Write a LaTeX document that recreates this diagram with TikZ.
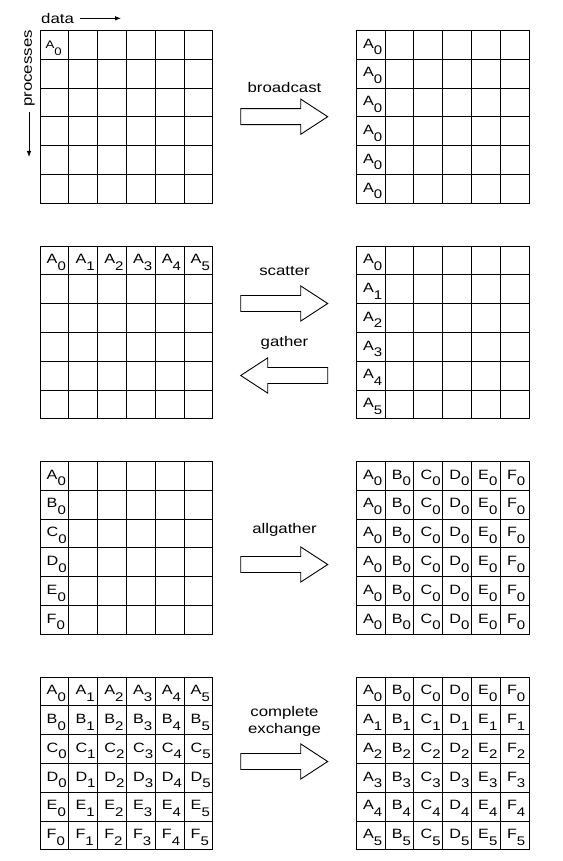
\documentclass[tikz,border=0pt]{standalone}
\usepackage{fontspec}
\setmainfont{Liberation Sans}[FakeStretch=1.2]
\usetikzlibrary{arrows.meta}

\newcommand{\cellentry}[2]{#1\raisebox{-6.7pt}{\fontsize{12.5}{13}\selectfont #2}}
\newcommand{\procgrid}[2]{%
  \draw[gridline] (#1,#2) rectangle ++(172.8,172.8);
  \foreach \k in {1,...,5} {
    \draw[gridline] (#1+\k*28.8,#2) -- ++(0,172.8);
    \draw[gridline] (#1,#2+\k*28.8) -- ++(172.8,0);
  }%
}

\tikzset{
  gridline/.style={line width=0.9pt},
  celltext/.style={anchor=base west, inner sep=0pt, font=\fontsize{13.5}{14}\selectfont},
  oplabel/.style={anchor=base, inner sep=0pt, align=center, font=\fontsize{14}{17}\selectfont},
  rblock/.pic={\draw[line width=0.9pt] (-43.5,-8) -- (16.5,-8) -- (16.5,-17.6) -- (43.5,0)
    -- (16.5,17.6) -- (16.5,8) -- (-43.5,8) -- cycle;}
}

\begin{document}
\begin{tikzpicture}[x=1pt, y=-1pt]
    \useasboundingbox (0,0) rectangle (562,861);

    \node[anchor=base west, inner sep=0pt, font=\fontsize{14}{16}\selectfont] (data) at (41,24) {data};
    \coordinate (datastart) at (80,18.3);
    \coordinate (dataend) at (121,18.3);
    \draw[line width=0.8pt, -{Latex[length=6pt, width=4.5pt]}] (datastart) -- (dataend);
    \node[rotate=90, inner sep=0pt, font=\fontsize{14}{16}\selectfont] (procs) at (29.5,68.5) {processes};
    \coordinate (procstop) at (29,112);
    \coordinate (procsend) at (29,157);
    \draw[line width=0.8pt, -{Latex[length=6pt, width=4.5pt]}] (procstop) -- (procsend);

    \procgrid{40}{30.5}
    \procgrid{356.3}{30.5}
    \procgrid{40}{246}
    \procgrid{356.3}{246}
    \procgrid{40}{461.5}
    \procgrid{356.3}{461.5}
    \procgrid{40}{677}
    \procgrid{356.3}{677}

    \node[celltext, font=\fontsize{11}{12}\selectfont] (bl-0-0) at (45.3,48.3) {A\raisebox{-7pt}{\fontsize{11}{11}\selectfont 0}};
    \foreach \i in {0,...,5}
        \node[celltext] (br-\i-0) at (356.3+6.5, 30.5+\i*28.8+17.6) {\cellentry{A}{0}};

    \foreach \j in {0,...,5}
        \node[celltext] (sl-0-\j) at (40+\j*28.8+6.5, 246+17.6) {\cellentry{A}{\j}};
    \foreach \i in {0,...,5}
        \node[celltext] (sr-\i-0) at (356.3+6.5, 246+\i*28.8+17.6) {\cellentry{A}{\i}};

    \foreach \l [count=\i from 0] in {A,B,C,D,E,F}
        \node[celltext] (al-\i-0) at (40+6.5, 461.5+\i*28.8+17.6) {\cellentry{\l}{0}};
    \foreach \l [count=\j from 0] in {A,B,C,D,E,F}
        \foreach \i in {0,...,5}
            \node[celltext] (ar-\i-\j) at (356.3+\j*28.8+6.5, 461.5+\i*28.8+17.6) {\cellentry{\l}{0}};

    \foreach \l [count=\i from 0] in {A,B,C,D,E,F}
        \foreach \j in {0,...,5}
            \node[celltext] (cl-\i-\j) at (40+\j*28.8+6.5, 677+\i*28.8+17.6) {\cellentry{\l}{\j}};
    \foreach \l [count=\j from 0] in {A,B,C,D,E,F}
        \foreach \i in {0,...,5}
            \node[celltext] (cr-\i-\j) at (356.3+\j*28.8+6.5, 677+\i*28.8+17.6) {\cellentry{\l}{\i}};

    \node[oplabel] (bcast) at (284.5,92.7) {broadcast};
    \pic at (284.2,116.7) {rblock};
    \node[oplabel] (scatter) at (284.5,275) {scatter};
    \pic at (284.2,303.5) {rblock};
    \node[oplabel] (gather) at (284.5,346) {gather};
    \pic[xscale=-1] at (284.2,375.5) {rblock};
    \node[oplabel] (allgather) at (284.5,533) {allgather};
    \pic at (284.2,564.5) {rblock};
    \node[oplabel] (exchange) at (284.5,733) {complete\\exchange};
    \pic at (284.2,761.5) {rblock};
\end{tikzpicture}
\end{document}
